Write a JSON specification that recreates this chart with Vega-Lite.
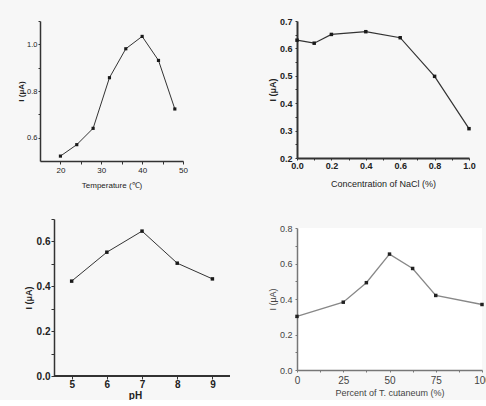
{
  "$schema": "https://vega.github.io/schema/vega-lite/v6.json",
  "background": "#f7f7f7",
  "padding": {"left": 17, "top": 17, "right": 0, "bottom": 0},
  "config": {
    "view": {"stroke": null},
    "axis": {
      "grid": false,
      "labelFont": "Liberation Sans Narrow, Liberation Sans, Arial",
      "titleFont": "Liberation Sans Narrow, Liberation Sans, Arial",
      "domainColor": "#333",
      "tickColor": "#333",
      "labelColor": "#222",
      "titleColor": "#222",
      "tickSize": 3,
      "labelFlush": false,
      "labelOverlap": false
    }
  },
  "hconcat": [
    {
      "spacing": 25,
      "vconcat": [
        {
          "width": 143,
          "height": 140,
          "data": {"values": [
            {"t": 20, "i": 0.521}, {"t": 24, "i": 0.570}, {"t": 28, "i": 0.640}, {"t": 32, "i": 0.857},
            {"t": 36, "i": 0.981}, {"t": 40, "i": 1.034}, {"t": 44, "i": 0.931}, {"t": 48, "i": 0.723}
          ]},
          "encoding": {
            "x": {"field": "t", "type": "quantitative", "scale": {"domain": [15, 50], "nice": false, "zero": false},
              "axis": {"values": [20, 25, 30, 35, 40, 45, 50], "labelExpr": "datum.value % 10 == 0 ? datum.label : ''",
                "title": "Temperature (℃)", "labelFontSize": 8, "titleFontSize": 8, "titleFontWeight": "normal",
                "labelPadding": 2, "minExtent": 14, "maxExtent": 14, "titlePadding": 6, "domainWidth": 1.5}},
            "y": {"field": "i", "type": "quantitative", "scale": {"domain": [0.5, 1.1], "nice": false, "zero": false},
              "axis": {"values": [0.6, 0.7, 0.8, 0.9, 1.0, 1.1], "labelExpr": "round(datum.value * 10) % 2 == 0 ? format(datum.value, '.1f') : ''",
                "title": "I (μA)", "labelFontSize": 7.5, "titleFontSize": 8, "titleFontWeight": "bold",
                "tickSize": 2, "labelPadding": 1, "minExtent": 13, "maxExtent": 13, "titlePadding": 2, "domainWidth": 1.5}}
          },
          "layer": [
            {"mark": {"type": "line", "color": "#333", "strokeWidth": 1}},
            {"mark": {"type": "point", "shape": "square", "filled": true, "size": 10, "color": "#1a1a1a", "opacity": 1}}
          ]
        },
        {
          "width": 190,
          "height": 157,
          "data": {"values": [
            {"ph": 5, "i": 0.423}, {"ph": 6, "i": 0.552}, {"ph": 7, "i": 0.646}, {"ph": 8, "i": 0.503}, {"ph": 9, "i": 0.433}
          ]},
          "encoding": {
            "x": {"field": "ph", "type": "quantitative", "scale": {"domain": [4.1, 9.5], "nice": false, "zero": false},
              "axis": {"values": [5, 6, 7, 8, 9], "format": "d", "title": "pH", "labelFontSize": 10, "labelFontWeight": "bold",
                "titleFontSize": 10, "titleFontWeight": "bold", "labelPadding": 0, "minExtent": 11, "maxExtent": 11, "titlePadding": 3, "domain": false}},
            "y": {"field": "i", "type": "quantitative", "scale": {"domain": [0, 0.7], "nice": false, "zero": true},
              "axis": {"values": [0, 0.1, 0.2, 0.3, 0.4, 0.5, 0.6, 0.7], "labelExpr": "round(datum.value * 10) % 2 == 0 ? format(datum.value, '.1f') : ''",
                "title": "I (μA)", "labelFontSize": 10, "labelFontWeight": "bold", "titleFontSize": 9, "titleFontWeight": "bold",
                "offset": -14, "labelPadding": 1, "minExtent": 17, "maxExtent": 17, "titlePadding": 4, "domainWidth": 1.5}}
          },
          "layer": [
            {"mark": {"type": "rule", "color": "#333", "strokeWidth": 1.5},
              "encoding": {"x": {"datum": 4.5}, "x2": {"datum": 9.5}, "y": {"datum": 0}}},
            {"mark": {"type": "line", "color": "#333", "strokeWidth": 1}},
            {"mark": {"type": "point", "shape": "square", "filled": true, "size": 12, "color": "#1a1a1a", "opacity": 1}}
          ]
        }
      ]
    },
    {
      "spacing": 36,
      "vconcat": [
        {
          "width": 172,
          "height": 137,
          "data": {"values": [
            {"c": 0.0, "i": 0.630}, {"c": 0.1, "i": 0.619}, {"c": 0.2, "i": 0.651}, {"c": 0.4, "i": 0.661},
            {"c": 0.6, "i": 0.639}, {"c": 0.8, "i": 0.498}, {"c": 1.0, "i": 0.307}
          ]},
          "encoding": {
            "x": {"field": "c", "type": "quantitative", "scale": {"domain": [0, 1], "nice": false},
              "axis": {"values": [0, 0.1, 0.2, 0.3, 0.4, 0.5, 0.6, 0.7, 0.8, 0.9, 1.0], "labelExpr": "round(datum.value * 10) % 2 == 0 ? format(datum.value, '.1f') : ''",
                "title": "Concentration of NaCl (%)", "labelFontSize": 9, "labelFontWeight": "bold", "titleFontSize": 9, "titleFontWeight": "normal",
                "tickSize": 2, "labelPadding": 1, "minExtent": 15, "maxExtent": 15, "titlePadding": 6, "domainWidth": 2}},
            "y": {"field": "i", "type": "quantitative", "scale": {"domain": [0.2, 0.7], "nice": false, "zero": false},
              "axis": {"values": [0.2, 0.25, 0.3, 0.35, 0.4, 0.45, 0.5, 0.55, 0.6, 0.65, 0.7], "labelExpr": "round(datum.value * 100) % 10 == 0 ? format(datum.value, '.1f') : ''",
                "title": "I (μA)", "labelFontSize": 9, "labelFontWeight": "bold", "titleFontSize": 9, "titleFontWeight": "bold",
                "tickSize": 2, "labelPadding": 3, "minExtent": 16, "maxExtent": 16, "titlePadding": 4, "domainWidth": 2}}
          },
          "layer": [
            {"mark": {"type": "line", "color": "#333", "strokeWidth": 1.2}},
            {"mark": {"type": "point", "shape": "square", "filled": true, "size": 12, "color": "#1a1a1a", "opacity": 1}}
          ]
        },
        {
          "width": 185,
          "height": 142,
          "view": {"fill": "white", "stroke": null},
          "data": {"values": [
            {"p": 0, "i": 0.302}, {"p": 25, "i": 0.382}, {"p": 37.5, "i": 0.492}, {"p": 50, "i": 0.653},
            {"p": 62.5, "i": 0.572}, {"p": 75, "i": 0.420}, {"p": 100, "i": 0.369}
          ]},
          "encoding": {
            "x": {"field": "p", "type": "quantitative", "scale": {"domain": [0, 100], "nice": false},
              "axis": {"values": [0, 12.5, 25, 37.5, 50, 62.5, 75, 87.5, 100], "labelExpr": "datum.value % 25 == 0 ? format(datum.value, 'd') : ''",
                "title": "Percent of T. cutaneum (%)", "labelFontSize": 10, "titleFontSize": 9, "titleFontWeight": "normal",
                "labelColor": "#444", "titleColor": "#444", "domainColor": "#777", "tickColor": "#777",
                "tickSize": 2, "labelPadding": 3, "minExtent": 15, "maxExtent": 15, "titlePadding": 3, "domainWidth": 1.5}},
            "y": {"field": "i", "type": "quantitative", "scale": {"domain": [0, 0.8], "nice": false},
              "axis": {"values": [0, 0.1, 0.2, 0.3, 0.4, 0.5, 0.6, 0.7, 0.8], "labelExpr": "round(datum.value * 10) % 2 == 0 ? format(datum.value, '.1f') : ''",
                "title": "I (μA)", "labelFontSize": 9, "titleFontSize": 9, "titleFontWeight": "normal",
                "labelColor": "#444", "titleColor": "#444", "domainColor": "#777", "tickColor": "#777",
                "tickSize": 2, "labelPadding": 3, "minExtent": 16, "maxExtent": 16, "titlePadding": 4, "domainWidth": 1.5}}
          },
          "layer": [
            {"mark": {"type": "line", "color": "#888", "strokeWidth": 1.3}},
            {"mark": {"type": "point", "shape": "square", "filled": true, "size": 12, "color": "#222", "opacity": 1}}
          ]
        }
      ]
    }
  ],
  "spacing": 37
}
